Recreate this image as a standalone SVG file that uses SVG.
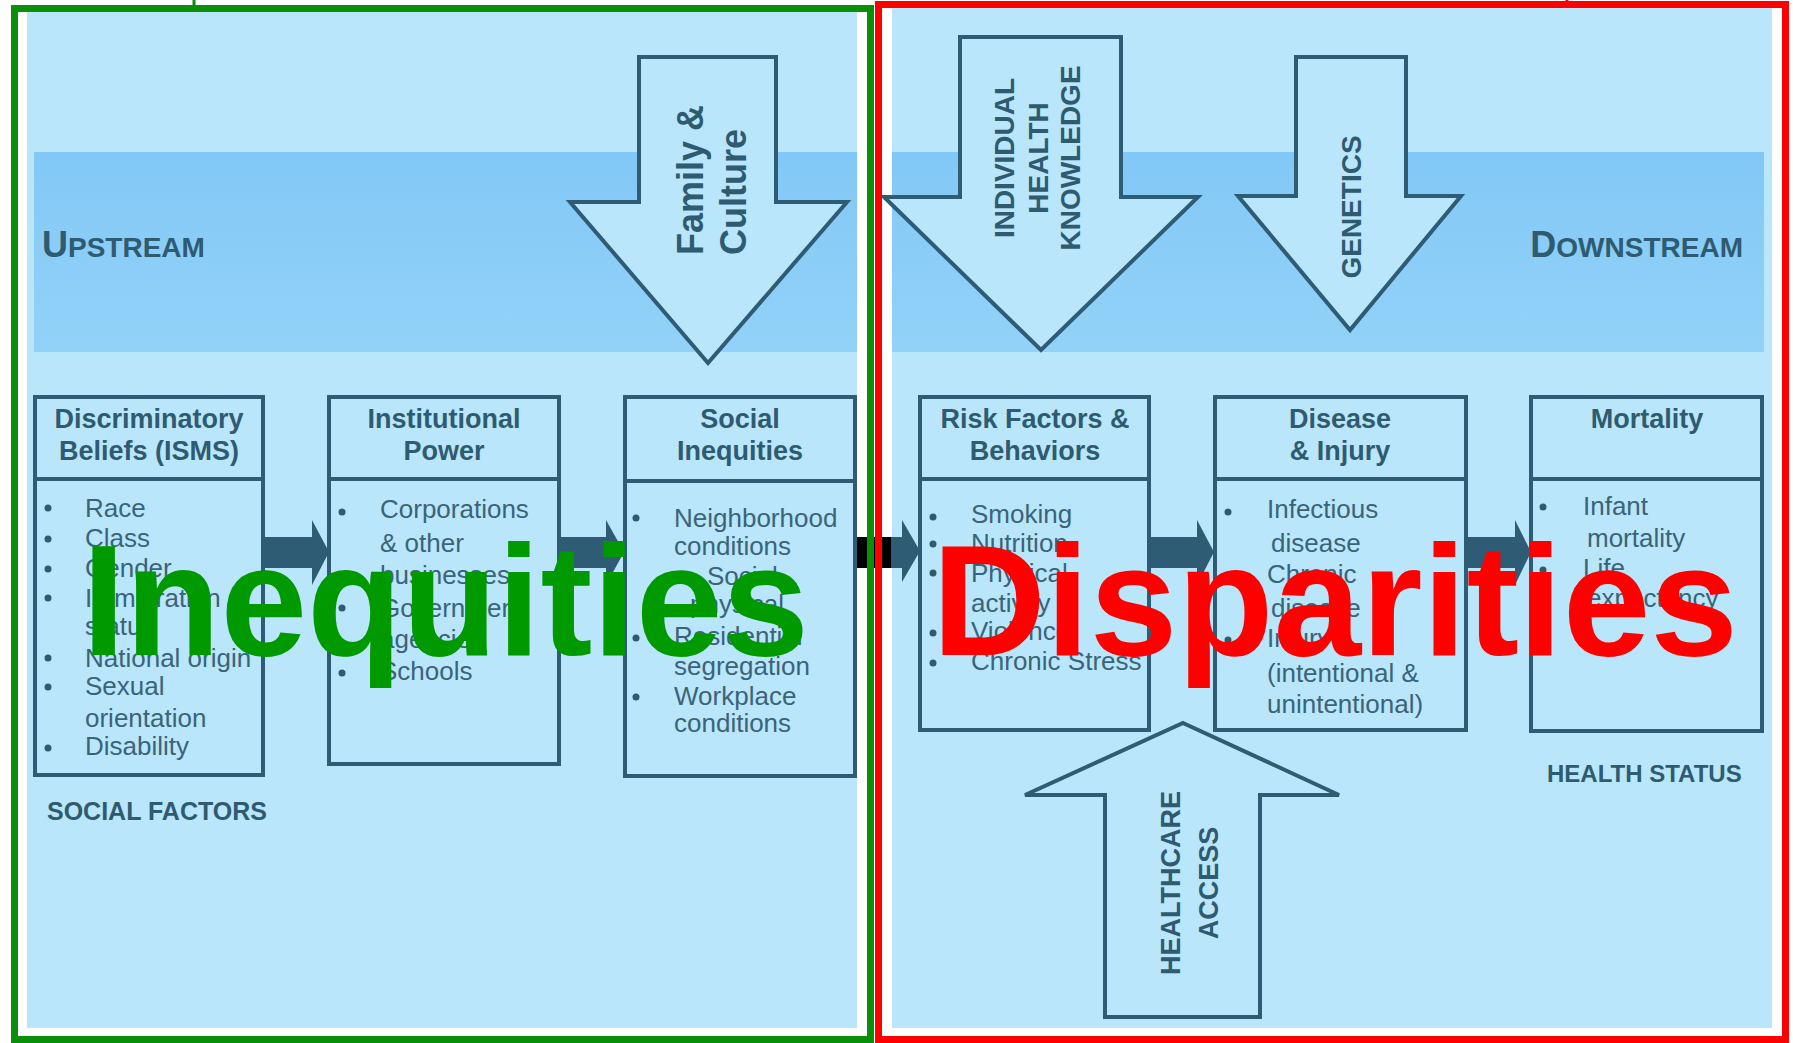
<svg xmlns="http://www.w3.org/2000/svg" width="1793" height="1043" viewBox="0 0 1793 1043">
<style>
.bg{fill:#b9e6fb}
.ln{fill:none;stroke:#2e5c74;stroke-width:4}
.bx{fill:#b9e6fb;stroke:#2e5c74;stroke-width:4}
.ar{fill:#b9e6fb;stroke:#2e5c74;stroke-width:4;stroke-linejoin:miter}
.cn{fill:#2e5c74}
.t{font-family:"Liberation Sans",Arial,sans-serif;fill:#2f5b70}
.h{font-size:27px;font-weight:bold;text-anchor:middle}
.b{font-size:26px;fill:#3a6478}
.v{font-weight:bold;text-anchor:middle}
.big{font-family:"Liberation Sans",Arial,sans-serif;font-size:157px;font-weight:bold}
</style>
<defs>
<linearGradient id="band" x1="0" y1="0" x2="0" y2="1">
<stop offset="0" stop-color="#82c8f6"/>
<stop offset="1" stop-color="#92d2f8"/>
</linearGradient>
<circle id="dot" r="3.5" fill="#2f5b70"/>
</defs>
<rect width="1793" height="1043" fill="#ffffff"/>
<g id="panels">
<rect class="bg" x="27" y="12" width="830" height="1016"/>
<rect class="bg" x="892" y="8" width="880" height="1020"/>
<rect x="34" y="152" width="823" height="200" fill="url(#band)"/>
<rect x="892" y="152" width="872" height="200" fill="url(#band)"/>
</g>
<text class="t" x="42" y="257" font-weight="bold"><tspan font-size="36">U</tspan><tspan font-size="28">PSTREAM</tspan></text>
<text class="t" x="1743" y="257" font-weight="bold" text-anchor="end"><tspan font-size="36">D</tspan><tspan font-size="28">OWNSTREAM</tspan></text>
<g id="family-culture">
<polygon class="ar" points="639,57 776,57 776,202 847,202 708,363 570,202 639,202"/>
<text class="t" font-size="36" font-weight="bold" transform="translate(703,255) rotate(-90)">Family &amp;</text>
<text class="t" font-size="36" font-weight="bold" transform="translate(746,255) rotate(-90)">Culture</text>
</g>
<g id="individual-health-knowledge">
<polygon class="ar" points="960,37 1121,37 1121,197 1198,197 1041,350 884,197 960,197"/>
<text class="t v" font-size="28" transform="translate(1014,158) rotate(-90)">INDIVIDUAL</text>
<text class="t v" font-size="28" transform="translate(1048,158) rotate(-90)">HEALTH</text>
<text class="t v" font-size="28" transform="translate(1080,158) rotate(-90)">KNOWLEDGE</text>
</g>
<g id="genetics">
<polygon class="ar" points="1296,57 1406,57 1406,196 1461,196 1350,330 1238,196 1296,196"/>
<text class="t v" font-size="28" transform="translate(1361,207) rotate(-90)">GENETICS</text>
</g>
<g id="box1">
<rect class="bx" x="35" y="397" width="228" height="378"/>
<line class="ln" x1="35" y1="479" x2="263" y2="479"/>
<text class="t h" x="149" y="428">Discriminatory</text>
<text class="t h" x="149" y="460">Beliefs (ISMS)</text>
<use href="#dot" x="48" y="508"/><use href="#dot" x="48" y="539"/><use href="#dot" x="48" y="569"/><use href="#dot" x="48" y="598"/><use href="#dot" x="48" y="658"/><use href="#dot" x="48" y="687"/><use href="#dot" x="48" y="748"/>
<text class="t b" x="85" font-size="25"><tspan x="85" y="517">Race</tspan><tspan x="85" y="547">Class</tspan><tspan x="85" y="577">Gender</tspan><tspan x="85" y="607">Immigration</tspan><tspan x="85" y="635">status</tspan><tspan x="85" y="667">National origin</tspan><tspan x="85" y="695">Sexual</tspan><tspan x="85" y="727">orientation</tspan><tspan x="85" y="755">Disability</tspan></text>
</g>
<text class="t" x="47" y="820" font-size="25" font-weight="bold">SOCIAL FACTORS</text>
<g id="box2">
<rect class="bx" x="329" y="397" width="230" height="367"/>
<line class="ln" x1="329" y1="479" x2="559" y2="479"/>
<text class="t h" x="444" y="428">Institutional</text>
<text class="t h" x="444" y="460">Power</text>
<use href="#dot" x="342" y="512"/><use href="#dot" x="342" y="608"/><use href="#dot" x="342" y="673"/>
<text class="t b" font-size="27"><tspan x="380" y="518">Corporations</tspan><tspan x="380" y="552">&amp; other</tspan><tspan x="380" y="584">businesses</tspan><tspan x="380" y="617">Government</tspan><tspan x="380" y="648">agencies</tspan><tspan x="380" y="680">Schools</tspan></text>
</g>
<g id="box3">
<rect class="bx" x="625" y="397" width="230" height="379"/>
<line class="ln" x1="625" y1="481" x2="855" y2="481"/>
<text class="t h" x="740" y="428">Social</text>
<text class="t h" x="740" y="460">Inequities</text>
<use href="#dot" x="636" y="518"/><use href="#dot" x="636" y="638"/><use href="#dot" x="636" y="697"/>
<text class="t b"><tspan x="674" y="527">Neighborhood</tspan><tspan x="674" y="555">conditions</tspan><tspan x="707" y="585">Social</tspan><tspan x="690" y="613">physical</tspan><tspan x="674" y="645">Residential</tspan><tspan x="674" y="675">segregation</tspan><tspan x="674" y="705">Workplace</tspan><tspan x="674" y="732">conditions</tspan></text>
</g>
<g id="box4">
<rect class="bx" x="920" y="397" width="229" height="333"/>
<line class="ln" x1="920" y1="479" x2="1149" y2="479"/>
<text class="t h" x="1035" y="428">Risk Factors &amp;</text>
<text class="t h" x="1035" y="460">Behaviors</text>
<use href="#dot" x="933" y="517"/><use href="#dot" x="933" y="544"/><use href="#dot" x="933" y="573"/><use href="#dot" x="933" y="633"/><use href="#dot" x="933" y="663"/>
<text class="t b"><tspan x="971" y="523">Smoking</tspan><tspan x="971" y="552">Nutrition</tspan><tspan x="971" y="582">Physical</tspan><tspan x="971" y="612">activity</tspan><tspan x="971" y="640">Violence</tspan><tspan x="971" y="670">Chronic Stress</tspan></text>
</g>
<g id="box5">
<rect class="bx" x="1215" y="397" width="251" height="333"/>
<line class="ln" x1="1215" y1="479" x2="1466" y2="479"/>
<text class="t h" x="1340" y="428">Disease</text>
<text class="t h" x="1340" y="460">&amp; Injury</text>
<use href="#dot" x="1228" y="512"/><use href="#dot" x="1228" y="575"/><use href="#dot" x="1228" y="640"/>
<text class="t b" font-size="27"><tspan x="1267" y="518">Infectious</tspan><tspan x="1271" y="552">disease</tspan><tspan x="1267" y="583">Chronic</tspan><tspan x="1271" y="617">disease</tspan><tspan x="1267" y="647">Injury</tspan><tspan x="1267" y="682">(intentional &amp;</tspan><tspan x="1267" y="713">unintentional)</tspan></text>
</g>
<g id="box6">
<rect class="bx" x="1531" y="397" width="231" height="334"/>
<line class="ln" x1="1531" y1="479" x2="1762" y2="479"/>
<text class="t h" x="1647" y="428">Mortality</text>
<use href="#dot" x="1543" y="507"/><use href="#dot" x="1543" y="570"/>
<text class="t b" font-size="27"><tspan x="1583" y="515">Infant</tspan><tspan x="1587" y="547">mortality</tspan><tspan x="1583" y="577">Life</tspan><tspan x="1587" y="607">expectancy</tspan></text>
</g>
<text class="t" x="1547" y="782" font-size="24" font-weight="bold">HEALTH STATUS</text>
<g id="healthcare-access">
<polygon class="ar" points="1183,723 1339,795 1260,795 1260,1017 1105,1017 1105,795 1025,795"/>
<text class="t v" font-size="27" transform="translate(1180,883) rotate(-90)">HEALTHCARE</text>
<text class="t v" font-size="27" transform="translate(1218,883) rotate(-90)">ACCESS</text>
</g>
<g id="connectors">
<polygon class="cn" points="264,537 312,537 312,520 329,552 312,585 312,568 264,568"/>
<polygon class="cn" points="560,537 606,537 606,520 624,552 606,585 606,568 560,568"/>
<rect x="857" y="537" width="35" height="31" fill="#000000"/>
<polygon class="cn" points="891,537 902,537 902,520 920,551 902,582 902,568 891,568"/>
<polygon class="cn" points="1150,537 1197,537 1197,520 1214,552 1197,585 1197,568 1150,568"/>
<polygon class="cn" points="1467,537 1515,537 1515,520 1531,552 1515,585 1515,568 1467,568"/>
</g>
<g id="frames">
<rect x="14.5" y="8.5" width="856" height="1031" fill="none" stroke="#0a8f0a" stroke-width="7"/>
<rect x="878.5" y="4.5" width="907" height="1035" fill="none" stroke="#ff0000" stroke-width="7"/>
<line x1="194" y1="0" x2="194" y2="8" stroke="#0a8f0a" stroke-width="3"/>
<line x1="1567" y1="0" x2="1567" y2="4" stroke="#ff0000" stroke-width="3"/>
</g>
<text class="big" x="82" y="655" fill="#009900" textLength="727" lengthAdjust="spacingAndGlyphs">Inequities</text>
<text class="big" x="932" y="655" fill="#ff0000" textLength="806" lengthAdjust="spacingAndGlyphs">Disparities</text>
</svg>
